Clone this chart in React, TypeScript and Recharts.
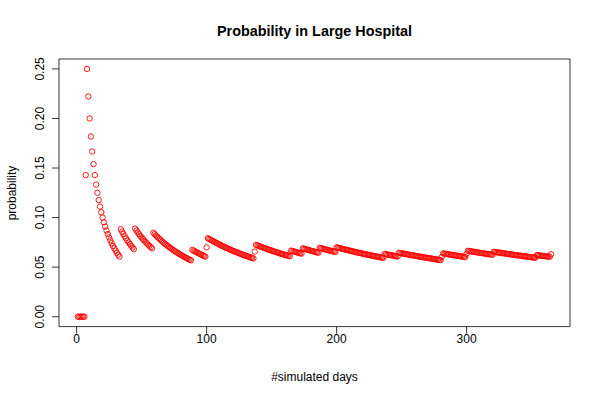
import { ReferenceArea, Scatter, ScatterChart, XAxis, YAxis } from 'recharts'

// days (1..365) on which the running count went up
const JUMP_DAYS = [7, 8, 34, 45, 59, 89, 100, 101, 137, 138, 165, 174, 187, 200, 237, 248, 281, 282, 300, 301, 321, 354, 365]
const N_DAYS = 365

const X_TICKS = [0, 100, 200, 300]
const Y_TICKS = [0, 0.05, 0.1, 0.15, 0.2, 0.25]

const TITLE = 'Probability in Large Hospital'
const X_LABEL = '#simulated days'
const Y_LABEL = 'probability'

// R pads the data range by 4% on each side
const X_DOMAIN: [number, number] = [-13.56, 379.56]
const Y_DOMAIN: [number, number] = [-0.01, 0.26]

const FONT = '"Liberation Sans", Arial, Helvetica, sans-serif'

const data = Array.from({ length: N_DAYS }, (_, i) => {
  const day = i + 1
  const count = JUMP_DAYS.filter((d) => d <= day).length
  return { day, p: count / day }
})

const Ring = (props: any) => (
  <circle cx={props.cx} cy={props.cy} r={2.7} fill="none" stroke="#ff0000" strokeWidth={0.9} />
)

const YTick = (props: any) => {
  const { x, y, payload } = props
  const lx = x - 7.5
  return (
    <text
      x={lx}
      y={y}
      transform={`rotate(-90 ${lx} ${y})`}
      textAnchor="middle"
      fontSize={12}
      fontFamily={FONT}
      fill="#000"
    >
      {payload.value.toFixed(2)}
    </text>
  )
}

const XTick = (props: any) => {
  const { x, y, payload } = props
  return (
    <text x={x} y={y + 9} textAnchor="middle" fontSize={12} fontFamily={FONT} fill="#000">
      {payload.value}
    </text>
  )
}

export default function App() {
  return (
    <div style={{ position: 'absolute', left: 0, top: 0, width: 600, height: 400, background: '#fff' }}>
      <ScatterChart width={600} height={400} margin={{ top: 59, right: 30, bottom: 0, left: 0 }}>
        <XAxis
          type="number"
          dataKey="day"
          domain={X_DOMAIN}
          ticks={X_TICKS}
          allowDataOverflow
          height={73.4}
          axisLine={false}
          tickSize={7}
          tickMargin={0}
          tickLine={{ stroke: '#000', strokeWidth: 0.8 }}
          tick={<XTick />}
          interval={0}
        />
        <YAxis
          type="number"
          dataKey="p"
          domain={Y_DOMAIN}
          ticks={Y_TICKS}
          allowDataOverflow
          width={59}
          axisLine={false}
          tickSize={7}
          tickMargin={0}
          tickLine={{ stroke: '#000', strokeWidth: 0.8 }}
          tick={<YTick />}
          interval={0}
        />
        <ReferenceArea
          x1={X_DOMAIN[0]}
          x2={X_DOMAIN[1]}
          y1={Y_DOMAIN[0]}
          y2={Y_DOMAIN[1]}
          fill="none"
          stroke="#000"
          strokeWidth={0.8}
        />
        <Scatter data={data} shape={Ring} isAnimationActive={false} />
      </ScatterChart>
      <svg
        width={600}
        height={400}
        style={{ position: 'absolute', left: 0, top: 0, pointerEvents: 'none' }}
      >
        <text x={314.5} y={36} textAnchor="middle" fontSize={14.4} fontWeight="bold" fontFamily={FONT} fill="#000">
          {TITLE}
        </text>
        <text x={314.5} y={381} textAnchor="middle" fontSize={12} fontFamily={FONT} fill="#000">
          {X_LABEL}
        </text>
        <text
          x={16}
          y={193}
          transform="rotate(-90 16 193)"
          textAnchor="middle"
          fontSize={12}
          fontFamily={FONT}
          fill="#000"
        >
          {Y_LABEL}
        </text>
      </svg>
    </div>
  )
}
